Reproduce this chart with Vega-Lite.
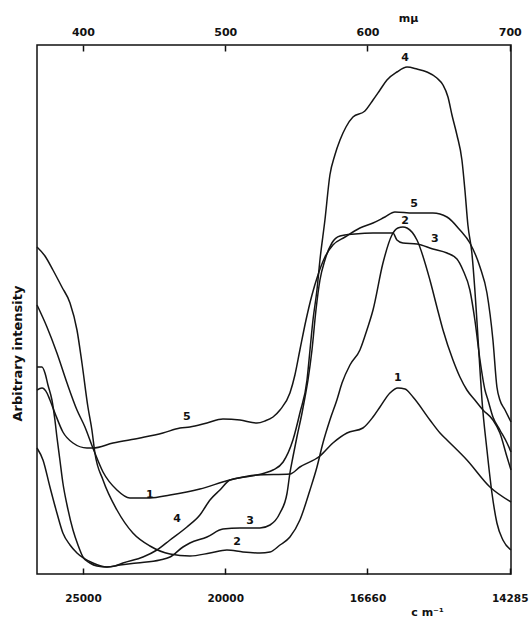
{
  "$schema": "https://vega.github.io/schema/vega-lite/v6.json",
  "width": 474,
  "height": 529,
  "autosize": {"type": "none"},
  "padding": {"left": 37, "top": 45, "right": 20, "bottom": 43},
  "background": "white",
  "config": {
    "view": {"stroke": "#111", "strokeWidth": 1.5},
    "font": "DejaVu Sans"
  },
  "datasets": {
    "curves": [
      {"curve": "1", "nm": 367.7, "intensity": 269},
      {"curve": "1", "nm": 374.7, "intensity": 247},
      {"curve": "1", "nm": 381.7, "intensity": 221},
      {"curve": "1", "nm": 388.8, "intensity": 191},
      {"curve": "1", "nm": 395.8, "intensity": 164},
      {"curve": "1", "nm": 401.4, "intensity": 147},
      {"curve": "1", "nm": 407.0, "intensity": 126},
      {"curve": "1", "nm": 414.1, "intensity": 102},
      {"curve": "1", "nm": 423.9, "intensity": 84},
      {"curve": "1", "nm": 433.0, "intensity": 76},
      {"curve": "1", "nm": 447.1, "intensity": 76},
      {"curve": "1", "nm": 461.2, "intensity": 79},
      {"curve": "1", "nm": 482.2, "intensity": 85},
      {"curve": "1", "nm": 503.3, "intensity": 94},
      {"curve": "1", "nm": 522.3, "intensity": 99},
      {"curve": "1", "nm": 545.5, "intensity": 100},
      {"curve": "1", "nm": 552.5, "intensity": 107},
      {"curve": "1", "nm": 566.6, "intensity": 118},
      {"curve": "1", "nm": 575.7, "intensity": 131},
      {"curve": "1", "nm": 585.6, "intensity": 141},
      {"curve": "1", "nm": 596.8, "intensity": 146},
      {"curve": "1", "nm": 603.9, "intensity": 157},
      {"curve": "1", "nm": 608.8, "intensity": 167},
      {"curve": "1", "nm": 615.8, "intensity": 181},
      {"curve": "1", "nm": 621.4, "intensity": 186},
      {"curve": "1", "nm": 626.4, "intensity": 185},
      {"curve": "1", "nm": 632.0, "intensity": 177},
      {"curve": "1", "nm": 643.9, "intensity": 154},
      {"curve": "1", "nm": 651.0, "intensity": 141},
      {"curve": "1", "nm": 655.9, "intensity": 134},
      {"curve": "1", "nm": 669.9, "intensity": 114},
      {"curve": "1", "nm": 686.1, "intensity": 87},
      {"curve": "1", "nm": 700.9, "intensity": 72},

      {"curve": "2", "nm": 367.7, "intensity": 327},
      {"curve": "2", "nm": 373.3, "intensity": 318},
      {"curve": "2", "nm": 378.9, "intensity": 304},
      {"curve": "2", "nm": 385.2, "intensity": 287},
      {"curve": "2", "nm": 390.9, "intensity": 271},
      {"curve": "2", "nm": 395.8, "intensity": 244},
      {"curve": "2", "nm": 399.3, "intensity": 211},
      {"curve": "2", "nm": 403.5, "intensity": 167},
      {"curve": "2", "nm": 406.3, "intensity": 144},
      {"curve": "2", "nm": 408.4, "intensity": 121},
      {"curve": "2", "nm": 414.1, "intensity": 94},
      {"curve": "2", "nm": 423.9, "intensity": 64},
      {"curve": "2", "nm": 435.1, "intensity": 41},
      {"curve": "2", "nm": 447.1, "intensity": 28},
      {"curve": "2", "nm": 461.2, "intensity": 20},
      {"curve": "2", "nm": 475.2, "intensity": 18},
      {"curve": "2", "nm": 489.3, "intensity": 21},
      {"curve": "2", "nm": 501.2, "intensity": 24},
      {"curve": "2", "nm": 512.5, "intensity": 22},
      {"curve": "2", "nm": 524.4, "intensity": 21},
      {"curve": "2", "nm": 531.5, "intensity": 22},
      {"curve": "2", "nm": 538.5, "intensity": 29},
      {"curve": "2", "nm": 545.5, "intensity": 37},
      {"curve": "2", "nm": 552.5, "intensity": 54},
      {"curve": "2", "nm": 559.6, "intensity": 84},
      {"curve": "2", "nm": 564.5, "intensity": 107},
      {"curve": "2", "nm": 568.7, "intensity": 131},
      {"curve": "2", "nm": 573.6, "intensity": 154},
      {"curve": "2", "nm": 578.5, "intensity": 174},
      {"curve": "2", "nm": 582.1, "intensity": 191},
      {"curve": "2", "nm": 587.7, "intensity": 209},
      {"curve": "2", "nm": 594.7, "intensity": 224},
      {"curve": "2", "nm": 599.6, "intensity": 244},
      {"curve": "2", "nm": 603.9, "intensity": 264},
      {"curve": "2", "nm": 610.9, "intensity": 311},
      {"curve": "2", "nm": 617.2, "intensity": 339},
      {"curve": "2", "nm": 621.4, "intensity": 346},
      {"curve": "2", "nm": 624.9, "intensity": 347},
      {"curve": "2", "nm": 627.8, "intensity": 346},
      {"curve": "2", "nm": 634.8, "intensity": 334},
      {"curve": "2", "nm": 643.9, "intensity": 294},
      {"curve": "2", "nm": 648.8, "intensity": 267},
      {"curve": "2", "nm": 653.1, "intensity": 244},
      {"curve": "2", "nm": 660.1, "intensity": 214},
      {"curve": "2", "nm": 665.0, "intensity": 197},
      {"curve": "2", "nm": 669.9, "intensity": 184},
      {"curve": "2", "nm": 675.5, "intensity": 174},
      {"curve": "2", "nm": 681.2, "intensity": 164},
      {"curve": "2", "nm": 688.2, "intensity": 154},
      {"curve": "2", "nm": 693.1, "intensity": 141},
      {"curve": "2", "nm": 698.1, "intensity": 117},
      {"curve": "2", "nm": 700.9, "intensity": 104},

      {"curve": "3", "nm": 367.7, "intensity": 126},
      {"curve": "3", "nm": 371.9, "intensity": 114},
      {"curve": "3", "nm": 376.8, "intensity": 87},
      {"curve": "3", "nm": 381.7, "intensity": 61},
      {"curve": "3", "nm": 385.9, "intensity": 41},
      {"curve": "3", "nm": 390.9, "intensity": 29},
      {"curve": "3", "nm": 395.8, "intensity": 21},
      {"curve": "3", "nm": 407.0, "intensity": 11},
      {"curve": "3", "nm": 416.9, "intensity": 7},
      {"curve": "3", "nm": 426.0, "intensity": 9},
      {"curve": "3", "nm": 438.0, "intensity": 11},
      {"curve": "3", "nm": 454.1, "intensity": 14},
      {"curve": "3", "nm": 461.2, "intensity": 17},
      {"curve": "3", "nm": 470.3, "intensity": 27},
      {"curve": "3", "nm": 475.2, "intensity": 31},
      {"curve": "3", "nm": 487.2, "intensity": 37},
      {"curve": "3", "nm": 498.4, "intensity": 45},
      {"curve": "3", "nm": 510.4, "intensity": 46},
      {"curve": "3", "nm": 524.4, "intensity": 46},
      {"curve": "3", "nm": 531.5, "intensity": 49},
      {"curve": "3", "nm": 538.5, "intensity": 61},
      {"curve": "3", "nm": 543.5, "intensity": 81},
      {"curve": "3", "nm": 545.5, "intensity": 101},
      {"curve": "3", "nm": 547.6, "intensity": 117},
      {"curve": "3", "nm": 550.4, "intensity": 137},
      {"curve": "3", "nm": 554.0, "intensity": 161},
      {"curve": "3", "nm": 556.1, "intensity": 177},
      {"curve": "3", "nm": 558.2, "intensity": 194},
      {"curve": "3", "nm": 561.0, "intensity": 224},
      {"curve": "3", "nm": 563.8, "intensity": 264},
      {"curve": "3", "nm": 566.6, "intensity": 294},
      {"curve": "3", "nm": 570.1, "intensity": 314},
      {"curve": "3", "nm": 575.0, "intensity": 331},
      {"curve": "3", "nm": 580.7, "intensity": 338},
      {"curve": "3", "nm": 591.2, "intensity": 340},
      {"curve": "3", "nm": 603.9, "intensity": 341},
      {"curve": "3", "nm": 617.9, "intensity": 341},
      {"curve": "3", "nm": 620.7, "intensity": 334},
      {"curve": "3", "nm": 624.9, "intensity": 331},
      {"curve": "3", "nm": 634.8, "intensity": 330},
      {"curve": "3", "nm": 646.0, "intensity": 325},
      {"curve": "3", "nm": 655.9, "intensity": 321},
      {"curve": "3", "nm": 662.9, "intensity": 315},
      {"curve": "3", "nm": 667.1, "intensity": 304},
      {"curve": "3", "nm": 672.0, "intensity": 284},
      {"curve": "3", "nm": 675.5, "intensity": 254},
      {"curve": "3", "nm": 679.1, "intensity": 214},
      {"curve": "3", "nm": 682.6, "intensity": 184},
      {"curve": "3", "nm": 684.7, "intensity": 174},
      {"curve": "3", "nm": 688.2, "intensity": 157},
      {"curve": "3", "nm": 693.1, "intensity": 144},
      {"curve": "3", "nm": 698.1, "intensity": 131},
      {"curve": "3", "nm": 700.9, "intensity": 122},

      {"curve": "4", "nm": 367.7, "intensity": 207},
      {"curve": "4", "nm": 371.2, "intensity": 207},
      {"curve": "4", "nm": 373.3, "intensity": 201},
      {"curve": "4", "nm": 375.4, "intensity": 189},
      {"curve": "4", "nm": 378.2, "intensity": 174},
      {"curve": "4", "nm": 380.3, "intensity": 154},
      {"curve": "4", "nm": 381.7, "intensity": 137},
      {"curve": "4", "nm": 383.8, "intensity": 114},
      {"curve": "4", "nm": 385.9, "intensity": 91},
      {"curve": "4", "nm": 388.8, "intensity": 69},
      {"curve": "4", "nm": 393.0, "intensity": 44},
      {"curve": "4", "nm": 396.5, "intensity": 29},
      {"curve": "4", "nm": 400.0, "intensity": 17},
      {"curve": "4", "nm": 404.9, "intensity": 11},
      {"curve": "4", "nm": 409.8, "intensity": 8},
      {"curve": "4", "nm": 416.9, "intensity": 7},
      {"curve": "4", "nm": 422.5, "intensity": 8},
      {"curve": "4", "nm": 428.1, "intensity": 11},
      {"curve": "4", "nm": 442.2, "intensity": 17},
      {"curve": "4", "nm": 452.0, "intensity": 24},
      {"curve": "4", "nm": 461.2, "intensity": 34},
      {"curve": "4", "nm": 473.1, "intensity": 47},
      {"curve": "4", "nm": 482.2, "intensity": 59},
      {"curve": "4", "nm": 489.3, "intensity": 74},
      {"curve": "4", "nm": 496.3, "intensity": 84},
      {"curve": "4", "nm": 503.3, "intensity": 94},
      {"curve": "4", "nm": 513.9, "intensity": 97},
      {"curve": "4", "nm": 522.3, "intensity": 99},
      {"curve": "4", "nm": 527.9, "intensity": 101},
      {"curve": "4", "nm": 533.6, "intensity": 104},
      {"curve": "4", "nm": 540.7, "intensity": 112},
      {"curve": "4", "nm": 547.6, "intensity": 134},
      {"curve": "4", "nm": 552.5, "intensity": 161},
      {"curve": "4", "nm": 557.5, "intensity": 194},
      {"curve": "4", "nm": 559.6, "intensity": 224},
      {"curve": "4", "nm": 561.7, "intensity": 254},
      {"curve": "4", "nm": 564.5, "intensity": 284},
      {"curve": "4", "nm": 566.6, "intensity": 314},
      {"curve": "4", "nm": 570.1, "intensity": 354},
      {"curve": "4", "nm": 573.6, "intensity": 399},
      {"curve": "4", "nm": 577.1, "intensity": 419},
      {"curve": "4", "nm": 580.7, "intensity": 434},
      {"curve": "4", "nm": 584.9, "intensity": 447},
      {"curve": "4", "nm": 589.8, "intensity": 457},
      {"curve": "4", "nm": 598.2, "intensity": 463},
      {"curve": "4", "nm": 603.9, "intensity": 474},
      {"curve": "4", "nm": 608.8, "intensity": 484},
      {"curve": "4", "nm": 613.7, "intensity": 494},
      {"curve": "4", "nm": 620.7, "intensity": 502},
      {"curve": "4", "nm": 627.8, "intensity": 507},
      {"curve": "4", "nm": 634.8, "intensity": 505},
      {"curve": "4", "nm": 641.8, "intensity": 502},
      {"curve": "4", "nm": 648.8, "intensity": 496},
      {"curve": "4", "nm": 653.1, "intensity": 489},
      {"curve": "4", "nm": 656.6, "intensity": 477},
      {"curve": "4", "nm": 659.4, "intensity": 459},
      {"curve": "4", "nm": 662.9, "intensity": 439},
      {"curve": "4", "nm": 666.4, "intensity": 414},
      {"curve": "4", "nm": 668.5, "intensity": 384},
      {"curve": "4", "nm": 670.6, "intensity": 349},
      {"curve": "4", "nm": 673.4, "intensity": 321},
      {"curve": "4", "nm": 675.5, "intensity": 284},
      {"curve": "4", "nm": 676.9, "intensity": 254},
      {"curve": "4", "nm": 679.1, "intensity": 204},
      {"curve": "4", "nm": 680.5, "intensity": 174},
      {"curve": "4", "nm": 684.0, "intensity": 124},
      {"curve": "4", "nm": 687.5, "intensity": 81},
      {"curve": "4", "nm": 691.0, "intensity": 51},
      {"curve": "4", "nm": 695.2, "intensity": 34},
      {"curve": "4", "nm": 700.9, "intensity": 24},

      {"curve": "5", "nm": 367.7, "intensity": 184},
      {"curve": "5", "nm": 371.2, "intensity": 186},
      {"curve": "5", "nm": 374.7, "intensity": 181},
      {"curve": "5", "nm": 376.8, "intensity": 174},
      {"curve": "5", "nm": 380.3, "intensity": 161},
      {"curve": "5", "nm": 385.9, "intensity": 142},
      {"curve": "5", "nm": 393.0, "intensity": 131},
      {"curve": "5", "nm": 402.8, "intensity": 126},
      {"curve": "5", "nm": 407.0, "intensity": 126},
      {"curve": "5", "nm": 421.1, "intensity": 131},
      {"curve": "5", "nm": 440.1, "intensity": 136},
      {"curve": "5", "nm": 456.2, "intensity": 141},
      {"curve": "5", "nm": 468.2, "intensity": 146},
      {"curve": "5", "nm": 475.2, "intensity": 147},
      {"curve": "5", "nm": 487.2, "intensity": 151},
      {"curve": "5", "nm": 498.4, "intensity": 155},
      {"curve": "5", "nm": 510.4, "intensity": 154},
      {"curve": "5", "nm": 522.3, "intensity": 151},
      {"curve": "5", "nm": 527.9, "intensity": 153},
      {"curve": "5", "nm": 533.6, "intensity": 157},
      {"curve": "5", "nm": 538.5, "intensity": 164},
      {"curve": "5", "nm": 545.5, "intensity": 181},
      {"curve": "5", "nm": 549.0, "intensity": 199},
      {"curve": "5", "nm": 552.5, "intensity": 224},
      {"curve": "5", "nm": 556.8, "intensity": 254},
      {"curve": "5", "nm": 561.0, "intensity": 279},
      {"curve": "5", "nm": 565.2, "intensity": 299},
      {"curve": "5", "nm": 570.1, "intensity": 317},
      {"curve": "5", "nm": 575.7, "intensity": 329},
      {"curve": "5", "nm": 584.2, "intensity": 337},
      {"curve": "5", "nm": 594.7, "intensity": 346},
      {"curve": "5", "nm": 603.9, "intensity": 351},
      {"curve": "5", "nm": 612.3, "intensity": 357},
      {"curve": "5", "nm": 619.3, "intensity": 362},
      {"curve": "5", "nm": 632.0, "intensity": 361},
      {"curve": "5", "nm": 646.0, "intensity": 361},
      {"curve": "5", "nm": 655.9, "intensity": 357},
      {"curve": "5", "nm": 665.0, "intensity": 344},
      {"curve": "5", "nm": 672.0, "intensity": 331},
      {"curve": "5", "nm": 679.1, "intensity": 307},
      {"curve": "5", "nm": 684.0, "intensity": 281},
      {"curve": "5", "nm": 688.2, "intensity": 234},
      {"curve": "5", "nm": 691.0, "intensity": 187},
      {"curve": "5", "nm": 693.1, "intensity": 174},
      {"curve": "5", "nm": 696.7, "intensity": 164},
      {"curve": "5", "nm": 700.9, "intensity": 152}
    ],
    "labels": [
      {"label": "1", "nm": 447.1, "intensity": 79},
      {"label": "1", "nm": 621.4, "intensity": 196},
      {"label": "2", "nm": 508.3, "intensity": 32},
      {"label": "2", "nm": 626.4, "intensity": 353},
      {"label": "3", "nm": 517.4, "intensity": 53},
      {"label": "3", "nm": 647.4, "intensity": 335},
      {"label": "4", "nm": 466.1, "intensity": 55},
      {"label": "4", "nm": 626.4, "intensity": 516},
      {"label": "5", "nm": 473.1, "intensity": 157},
      {"label": "5", "nm": 632.7, "intensity": 370}
    ]
  },
  "layer": [
    {
      "data": {"name": "curves"},
      "mark": {"type": "line", "color": "#151515", "strokeWidth": 1.5, "interpolate": "monotone"},
      "encoding": {
        "x": {
          "field": "nm", "type": "quantitative",
          "scale": {"domain": [367.7, 700.9], "nice": false, "zero": false},
          "axis": {
            "orient": "bottom", "values": [400, 500, 600, 700], "offset": -6,
            "labelExpr": "datum.value == 400 ? '25000' : datum.value == 500 ? '20000' : datum.value == 600 ? '16660' : '14285'",
            "domain": false, "grid": false, "tickSize": 6, "tickColor": "#111", "tickWidth": 1.5,
            "labelFontSize": 10.5, "labelFontWeight": "bold", "labelColor": "#111", "labelPadding": 19,
            "labelFlush": false,
            "title": "c m⁻¹", "titleFontSize": 11, "titleFontWeight": "bold", "titleColor": "#111",
            "titleX": 390, "titleY": 47, "titleBaseline": "alphabetic", "titleAnchor": "middle"
          }
        },
        "y": {
          "field": "intensity", "type": "quantitative",
          "scale": {"domain": [0, 529], "nice": false, "zero": false},
          "axis": {
            "domain": false, "ticks": false, "labels": false, "grid": false,
            "title": "Arbitrary intensity", "titleFontSize": 13, "titleFontWeight": "bold", "titleColor": "#111",
            "titleX": -20, "titleY": 308, "titleAngle": -90, "titleBaseline": "middle", "titleAnchor": "middle"
          }
        },
        "detail": {"field": "curve"}
      }
    },
    {
      "data": {"name": "labels"},
      "mark": {"type": "text", "fontSize": 11, "fontWeight": "bold", "color": "#111", "baseline": "middle", "align": "center"},
      "encoding": {
        "x": {
          "field": "nm", "type": "quantitative",
          "axis": {
            "orient": "top", "values": [400, 500, 600, 700], "offset": -6,
            "domain": false, "grid": false, "tickSize": 6, "tickColor": "#111", "tickWidth": 1.5,
            "labelFontSize": 11, "labelFontWeight": "bold", "labelColor": "#111", "labelPadding": 8,
            "labelFlush": false,
            "title": "mμ", "titleFontSize": 11, "titleFontWeight": "bold", "titleColor": "#111",
            "titleX": 371, "titleY": -30, "titleBaseline": "alphabetic", "titleAnchor": "middle"
          }
        },
        "y": {"field": "intensity", "type": "quantitative", "axis": null},
        "text": {"field": "label"}
      }
    }
  ],
  "resolve": {"axis": {"x": "independent", "y": "independent"}}
}
